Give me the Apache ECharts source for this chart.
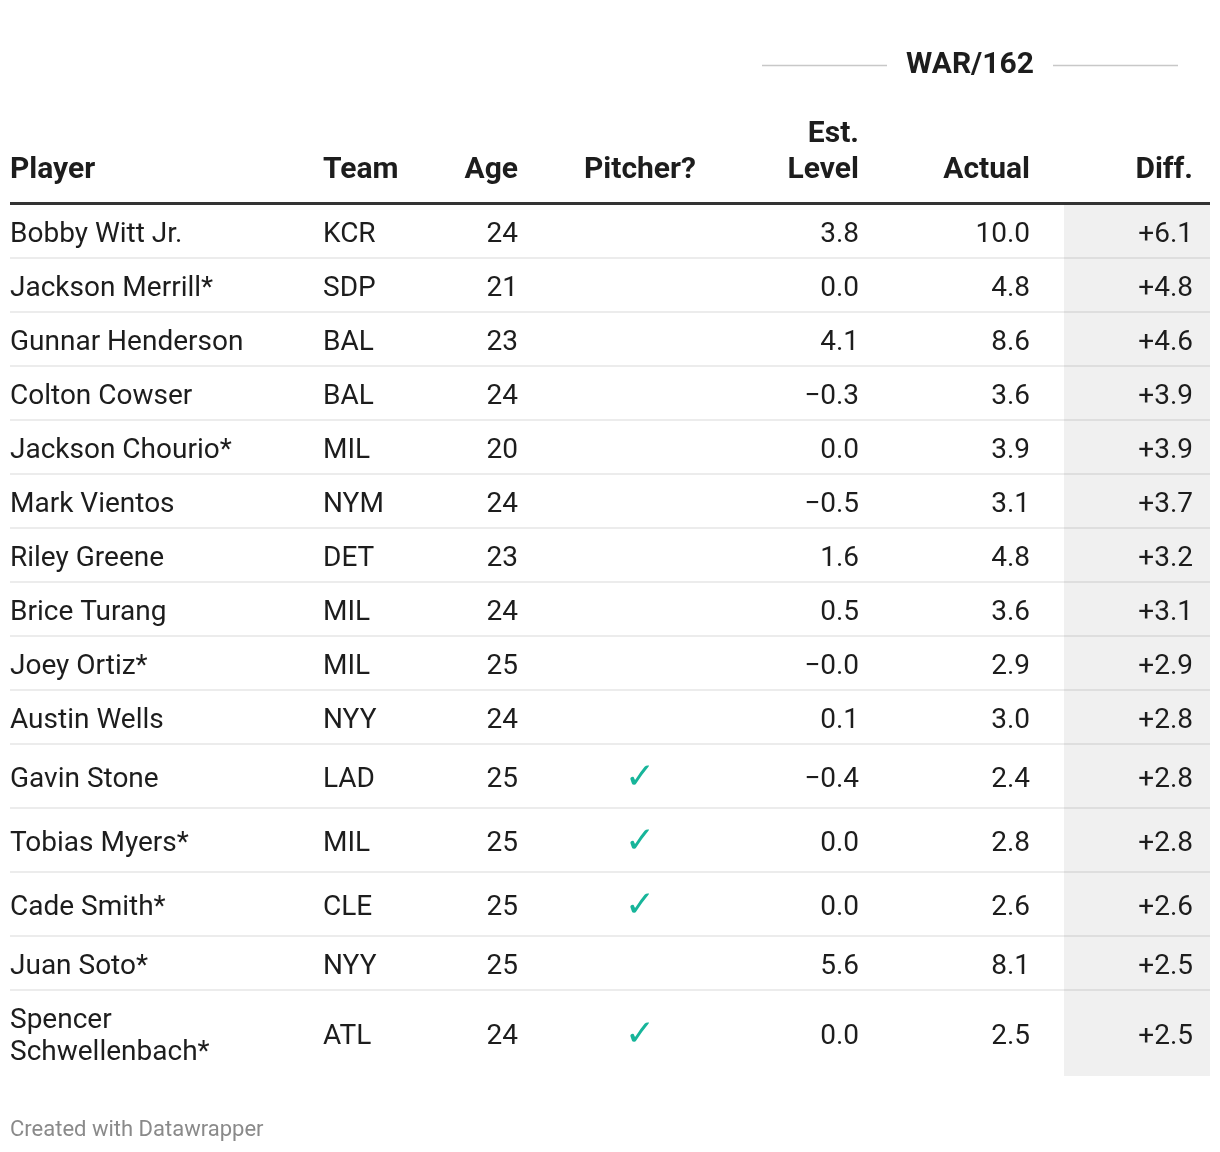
<!DOCTYPE html>
<html>
<head>
<meta charset="utf-8">
<script src="https://cdn.jsdelivr.net/npm/echarts@6/dist/echarts.min.js"></script>
<style>
  html, body { margin: 0; padding: 0; background: #fff; }
  #main { width: 1220px; height: 1152px; }
</style>
</head>
<body>
<div id="main"></div>
<script>
// column headers and table data
const headers = ["Player", "Team", "Age", "Pitcher?", "Est.\nLevel", "Actual", "Diff."];
const groupTitle = "WAR/162";
const footerText = "Created with Datawrapper";

const players = [
	"Bobby Witt Jr.", "Jackson Merrill*", "Gunnar Henderson", "Colton Cowser", "Jackson Chourio*",
	"Mark Vientos", "Riley Greene", "Brice Turang", "Joey Ortiz*", "Austin Wells",
	"Gavin Stone", "Tobias Myers*", "Cade Smith*", "Juan Soto*", "Spencer Schwellenbach*"
];
const teams = ["KCR", "SDP", "BAL", "BAL", "MIL", "NYM", "DET", "MIL", "MIL", "NYY", "LAD", "MIL", "CLE", "NYY", "ATL"];
const ages = [24, 21, 23, 24, 20, 24, 23, 24, 25, 24, 25, 25, 25, 25, 24];
const pitchers = [false, false, false, false, false, false, false, false, false, false, true, true, true, false, true];
const estLevel = [3.8, 0.0, 4.1, -0.3, 0.0, -0.5, 1.6, 0.5, -0, 0.1, -0.4, 0.0, 0.0, 5.6, 0.0];
const actual = [10.0, 4.8, 8.6, 3.6, 3.9, 3.1, 4.8, 3.6, 2.9, 3.0, 2.4, 2.8, 2.6, 8.1, 2.5];
const diff = [6.1, 4.8, 4.6, 3.9, 3.9, 3.7, 3.2, 3.1, 2.9, 2.8, 2.8, 2.8, 2.6, 2.5, 2.5];

// layout
const W = 1220;
const colX = [10, 323, 518, 640, 859, 1030, 1193];
const colAlign = ["left", "left", "right", "center", "right", "right", "right"];
const tableTop = 205;
const font = "Roboto";
const textColor = "#1d1d1d";
const rowH = players.map((p, i) => (p.length > 20 ? 85 : pitchers[i] ? 64 : 54));
const rowTop = [];
let acc = 0;
rowH.forEach(h => { rowTop.push(acc); acc += h; });
const tableH = acc;

function fmt(v, plus) {
	const neg = v < 0 || Object.is(v, -0);
	const s = Math.abs(v).toFixed(1);
	return neg ? "\u2212" + s : (plus ? "+" + s : s);
}

function txt(text, x, y, align, opts) {
	return {
		type: "text",
		x: x,
		y: y,
		style: Object.assign({
			text: text,
			fill: textColor,
			fontSize: 28,
			fontFamily: font,
			align: align,
			textAlign: align,
			verticalAlign: "middle",
			textVerticalAlign: "middle"
		}, opts || {})
	};
}

const chart = echarts.init(document.getElementById("main"));

const graphics = [];
headers.forEach((h, k) => {
	graphics.push({
		type: "text",
		x: colX[k],
		y: 188,
		style: {
			text: h,
			fill: textColor,
			fontSize: 30,
			fontWeight: "bold",
			fontFamily: font,
			lineHeight: 36,
			align: colAlign[k],
			textAlign: colAlign[k],
			verticalAlign: "bottom",
			textVerticalAlign: "bottom"
		}
	});
});
graphics.push(txt(groupTitle, 970, 65, "center", { fontWeight: "bold", fontSize: 30 }));
graphics.push({ type: "line", shape: { x1: 762, y1: 65.5, x2: 887, y2: 65.5 }, style: { stroke: "#c8c8c8", lineWidth: 1.5 } });
graphics.push({ type: "line", shape: { x1: 1053, y1: 65.5, x2: 1178, y2: 65.5 }, style: { stroke: "#c8c8c8", lineWidth: 1.5 } });
graphics.push({ type: "line", shape: { x1: 10, y1: 203.5, x2: 1210, y2: 203.5 }, style: { stroke: "#333", lineWidth: 3 } });
graphics.push(txt(footerText, 10, 1130, "left", { fontSize: 22, fill: "#8a8a8a" }));

const option = {
	animation: false,
	backgroundColor: "#fff",
	grid: { left: 0, right: 0, top: tableTop, height: tableH },
	xAxis: { type: "value", min: 0, max: W, show: false },
	yAxis: { type: "value", min: 0, max: tableH, inverse: true, show: false },
	graphic: graphics,
	series: [
		{
			type: "custom",
			coordinateSystem: "cartesian2d",
			data: players.map((p, i) => [i, rowTop[i]]),
			encode: { x: 0, y: 1 },
			renderItem: function (params, api) {
				const i = params.dataIndex;
				const tl = api.coord([0, rowTop[i]]);
				const br = api.coord([W, rowTop[i] + rowH[i]]);
				const px = v => api.coord([v, 0])[0];
				const cy = (tl[1] + br[1]) / 2 + 3;
				const children = [];
				// grey diff column
				children.push({
					type: "rect",
					shape: { x: px(1064), y: tl[1], width: px(1210) - px(1064), height: br[1] - tl[1] },
					style: { fill: "#f0f0f0" }
				});
				if (i < players.length - 1) {
					children.push({
						type: "line",
						shape: { x1: px(10), y1: br[1] - 1, x2: px(1210), y2: br[1] - 1 },
						style: { stroke: "rgba(0,0,0,0.075)", lineWidth: 2 }
					});
				}
				const cells = [
					players[i], teams[i], String(ages[i]), "",
					fmt(estLevel[i]), fmt(actual[i]), fmt(diff[i], true)
				];
				cells.forEach((c, k) => {
					if (!c) return;
					const extra = k === 0 ? { width: 300, overflow: "break", lineHeight: 32 } : {};
					children.push(txt(c, px(colX[k]), cy, colAlign[k], extra));
				});
				if (pitchers[i]) {
					children.push(txt("\u2713", px(colX[3]), cy - 1, "center", {
						fill: "#17b59a", fontFamily: "DejaVu Sans", fontSize: 36
					}));
				}
				return { type: "group", children: children };
			}
		}
	]
};
chart.setOption(option);
</script>
</body>
</html>
